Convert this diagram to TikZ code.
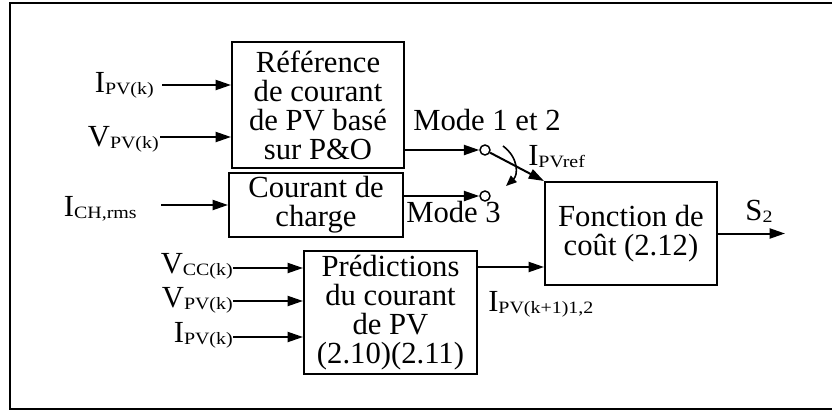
\documentclass[tikz,border=0pt]{standalone}
\usepackage{fontspec}
\setmainfont{Liberation Serif}
\newfontfamily\subfont{Liberation Serif}[FakeStretch=1.15]
\usetikzlibrary{arrows.meta}
\newcommand\lsub[1]{\raisebox{-2pt}{\subfont\fontsize{13}{13}\selectfont #1}}
\begin{document}
\begin{tikzpicture}[x=0.75pt, y=-0.75pt,
  font=\fontsize{23}{21.8}\selectfont,
  blk/.style={draw, line width=1.5pt, inner sep=0pt, align=center},
  arr/.style={line width=1.5pt, -{Triangle[length=11.5pt,width=7.5pt]}},
  arcarr/.style={line width=1.2pt, -{Triangle[length=8pt,width=6.5pt]}},
  lbl/.style={inner sep=0pt},
  sw/.style={circle, draw, fill=white, line width=1.1pt, minimum size=7.5pt, inner sep=0pt}]
\useasboundingbox (0,0) rectangle (832,411);

% outer frame (open on the right)
\draw[line width=2pt] (832,3) -- (10,3) -- (10,409) -- (832,409);

% blocks
\node[blk, minimum width=129pt, minimum height=94.5pt] (ref) at (318,105)
  {Référence\\de courant\\de PV basé\\sur P\&O};
\node[blk, minimum width=130.5pt, minimum height=48pt] (ch) at (316,205)
  {Courant de\\charge};
\node[blk, minimum width=129pt, minimum height=77.25pt] (cost) at (631,233.5)
  {Fonction de\\coût (2.12)};
\node[blk, minimum width=129.75pt, minimum height=92.25pt] (pred) at (390.5,312.5)
  {Prédictions\\du courant\\de PV\\(2.10)(2.11)};

% input labels
\node[lbl, anchor=base east] (i1) at (154,92) {I\lsub{PV(k)}};
\node[lbl, anchor=base east] (v1) at (159,146) {V\lsub{PV(k)}};
\node[lbl, anchor=base east] (ich) at (137,216) {I\lsub{CH,rms}};
\node[lbl, anchor=base east] (vcc) at (233,273) {V\lsub{CC(k)}};
\node[lbl, anchor=base east] (v2) at (233,307) {V\lsub{PV(k)}};
\node[lbl, anchor=base east] (i2) at (233,342) {I\lsub{PV(k)}};

% input arrows
\coordinate (i1s) at (162,85);
\coordinate (v1s) at (160,137);
\coordinate (ichs) at (161,205);
\coordinate (vccs) at (233,268);
\coordinate (v2s) at (233,301);
\coordinate (i2s) at (233,337);
\draw[arr] (i1s) -- (i1s -| ref.west);
\draw[arr] (v1s) -- (v1s -| ref.west);
\draw[arr] (ichs) -- (ichs -| ch.west);
\draw[arr] (vccs) -- (vccs -| pred.west);
\draw[arr] (v2s) -- (v2s -| pred.west);
\draw[arr] (i2s) -- (i2s -| pred.west);

% mode switch
\node[sw] (c1) at (485,150) {};
\node[sw] (c2) at (485,196) {};
\draw[arr] (ref.east |- c1) -- (c1);
\draw[arr] (ch.east |- c2) -- (c2);
\draw[arr] (c1) -- (cost.north west);
\coordinate (a1) at (503,146);
\coordinate (a2) at (506,186);
\draw[arcarr] (a1) .. controls (519,158) and (518,175) .. (a2);

\node[lbl, anchor=base west] (m12) at (413,130) {Mode 1 et 2};
\node[lbl, anchor=base west] (m3) at (406,222) {Mode 3};
\node[lbl, anchor=base west] (iref) at (528,165) {I\lsub{PVref}};

% prediction output
\coordinate (p1) at (477,267);
\draw[arr] (p1) -- (p1 -| cost.west);
\node[lbl, anchor=base west] (ipred) at (488,311) {I\lsub{PV(k+1)1,2}};

% cost function output
\coordinate (s2e) at (785,233.5);
\draw[arr] (cost.east) -- (s2e);
\node[lbl, anchor=base] (s2) at (759,220) {S\lsub{2}};
\end{tikzpicture}
\end{document}
